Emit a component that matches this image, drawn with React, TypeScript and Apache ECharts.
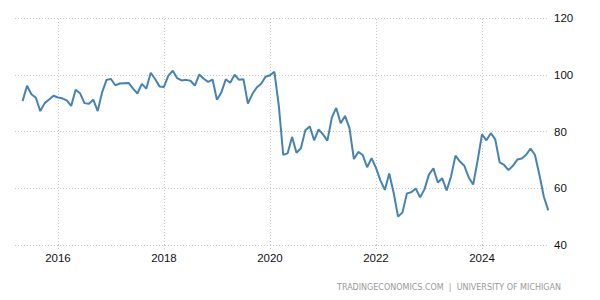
import React, { useEffect, useRef } from "react";
import * as echarts from "echarts";

const startYear = 2015;
const startMonth = 5; // May 2015
const values: number[] = [
  // 2015 May-Dec
  90.7, 96.1, 93.1, 91.9, 87.2, 90.0, 91.3, 92.6,
  // 2016
  92.0, 91.7, 91.0, 89.0, 94.7, 93.5, 90.0, 89.8, 91.2, 87.2, 93.8, 98.2,
  // 2017
  98.5, 96.3, 96.9, 97.0, 97.1, 95.1, 93.4, 96.8, 95.1, 100.7, 98.5, 95.9,
  // 2018
  95.7, 99.7, 101.4, 98.8, 98.0, 98.2, 97.9, 96.2, 100.1, 98.6, 97.5, 98.3,
  // 2019
  91.2, 93.8, 98.4, 97.2, 100.0, 98.2, 98.4, 89.8, 93.2, 95.5, 96.8, 99.3,
  // 2020
  99.8, 101.0, 89.1, 71.8, 72.3, 78.1, 72.5, 74.1, 80.4, 81.8, 76.9, 80.7,
  // 2021
  79.0, 76.8, 84.9, 88.3, 82.9, 85.5, 81.2, 70.3, 72.8, 71.7, 67.4, 70.6,
  // 2022
  67.2, 62.8, 59.4, 65.2, 58.4, 50.0, 51.5, 58.2, 58.6, 59.9, 56.8, 59.7,
  // 2023
  64.9, 67.0, 62.0, 63.5, 59.2, 64.2, 71.5, 69.4, 67.9, 63.8, 61.3, 69.7,
  // 2024
  79.0, 76.9, 79.4, 77.2, 69.1, 68.2, 66.4, 67.9, 70.1, 70.5, 71.8, 74.0,
  // 2025 Jan-Apr
  71.7, 64.7, 57.0, 52.2,
];
const yearTicks = [2016, 2018, 2020, 2022, 2024];
const yTicks = [40, 60, 80, 100, 120];
const footer = "TRADINGECONOMICS.COM  |  UNIVERSITY OF MICHIGAN";

const points = values.map((v, i) => [startYear + (startMonth - 1 + i) / 12, v]);

export default function App() {
  const ref = useRef<HTMLDivElement>(null);
  useEffect(() => {
    if (!ref.current) return;
    document.body.style.margin = "0";
    const chart = echarts.init(ref.current, null, { renderer: "svg" });
    const gridStyle = { color: "#c8c8c8", type: [1, 2] as any, width: 1 };
    chart.setOption({
      animation: false,
      grid: { left: 15, right: 51, top: 18, bottom: 55, containLabel: false },
      xAxis: {
        type: "value",
        min: 2015.19,
        max: 2025.264,
        axisLine: { show: false },
        axisTick: {
          show: true,
          customValues: yearTicks,
          length: 5,
          lineStyle: gridStyle,
        },
        splitLine: { show: false },
        axisLabel: {
          customValues: yearTicks,
          formatter: (v: number) => String(Math.round(v)),
          color: "#111",
          fontSize: 11.5,
          fontFamily: "Liberation Sans, Arial, sans-serif",
          margin: 7,
        },
      },
      yAxis: {
        type: "value",
        position: "right",
        min: yTicks[0],
        max: yTicks[yTicks.length - 1],
        interval: 20,
        axisLine: { show: false },
        axisTick: { show: false },
        splitLine: { show: true, lineStyle: gridStyle },
        axisLabel: {
          color: "#111",
          fontSize: 11.5,
          fontFamily: "Liberation Sans, Arial, sans-serif",
          margin: 5,
        },
      },
      series: [
        {
          type: "line",
          data: points,
          showSymbol: false,
          symbol: "none",
          lineStyle: { color: "#4682b4", width: 2 },
          z: 3,
          markLine: {
            silent: true,
            symbol: "none",
            label: { show: false },
            lineStyle: gridStyle,
            z: 1,
            data: yearTicks.map((y) => ({ xAxis: y })),
          },
        },
      ],
      graphic: [
        {
          type: "text",
          right: 39,
          top: 283,
          style: {
            text: footer,
            fill: "#999999",
            fontSize: 8,
            fontFamily: "DejaVu Sans, Verdana, sans-serif",
          },
        },
      ],
    });
    return () => chart.dispose();
  }, []);
  return <div ref={ref} style={{ width: 600, height: 300 }} />;
}
